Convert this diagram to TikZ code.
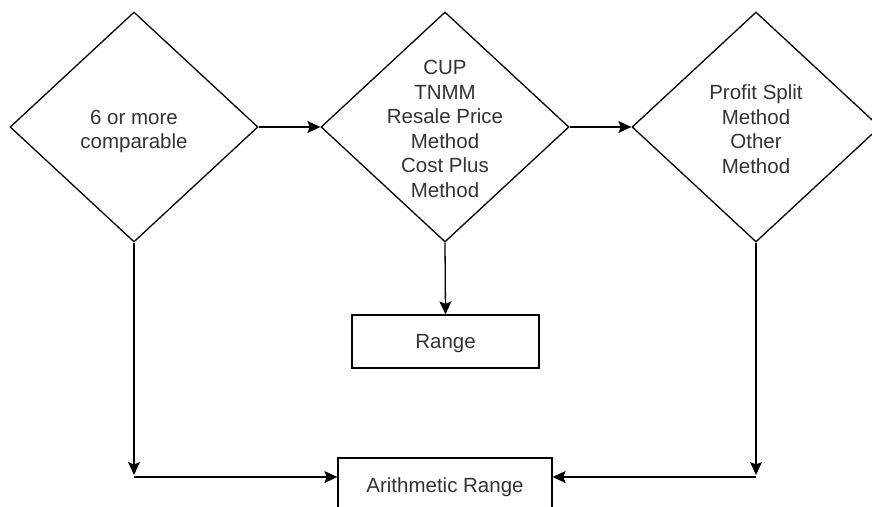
\documentclass[tikz,border=0pt]{standalone}
\usepackage{fontspec}
\setmainfont{Liberation Sans}
\usetikzlibrary{shapes.geometric,arrows.meta}
\definecolor{textgray}{HTML}{333333}
\begin{document}
\begin{tikzpicture}[x=1pt,y=-1pt,
  decision/.style={draw=black, line width=1.3pt, diamond, inner sep=0pt,
    minimum width=248pt, minimum height=230pt},
  txt/.style={text=textgray, align=center, inner sep=0pt,
    font=\fontsize{20.5}{24.5}\selectfont},
  box/.style={draw=black, line width=1.3pt, rectangle, inner sep=0pt,
    text=textgray, font=\fontsize{20.5}{24.5}\selectfont,
    text height=14.7pt, text depth=0pt},
  conn/.style={line width=1.3pt, -{Stealth[length=13pt,width=12pt,inset=2.5pt]}}]
\useasboundingbox (0,0) rectangle (872,506);
\clip (0,0) rectangle (872,506);
\fill[white] (0,0) rectangle (872,506);

\node[decision] (d1) at (134,127) {};
\node[txt] (t1) at (134,131.5) {6 or more\\comparable};

\node[decision] (d2) at (445,127) {};
\node[txt] (t2) at (445,129) {CUP\\TNMM\\Resale Price\\Method\\Cost Plus\\Method};

\node[decision] (d3) at (756,127) {};
\node[txt] (t3) at (756,129) {Profit Split\\Method\\Other\\Method};

\node[box, minimum width=187pt, minimum height=53pt] (range) at (445.5,341.5) {Range};
\node[box, minimum width=214pt, minimum height=54pt] (arith) at (445,485) {Arithmetic Range};

\draw[conn] (d1.east) -- (d2.west);
\draw[conn] (d2.east) -- (d3.west);
\draw[conn] (d2.south) -- (range.north);

\coordinate (l1) at (134,475);
\coordinate (l2) at (134,477);
\draw[conn] (d1.south) -- (l1);
\draw[conn] (l2) -- (l2 -| arith.west);

\coordinate (r1) at (756,475);
\coordinate (r2) at (756,477);
\draw[conn] (d3.south) -- (r1);
\draw[conn] (r2) -- (r2 -| arith.east);
\end{tikzpicture}
\end{document}
